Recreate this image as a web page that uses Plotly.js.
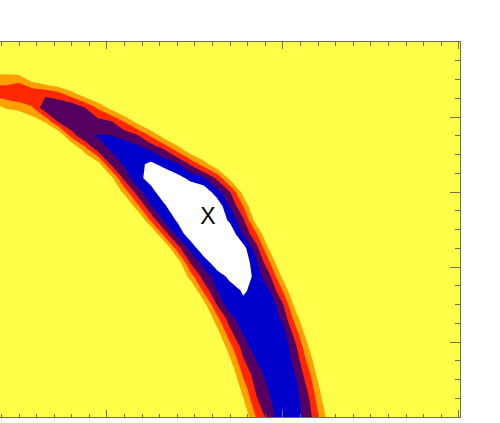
<!DOCTYPE html>
<html>
<head>
<meta charset="utf-8">
<script src="https://cdn.plot.ly/plotly-3.0.1.min.js"></script>
<style>
  html, body { margin: 0; padding: 0; background: #fff; }
  #chart { width: 500px; height: 423px; }
</style>
</head>
<body>
<div id="chart"></div>
<script>
// grid nodes of the confidence map (axis units)
const xGrid = [3.5, 4.25, 5, 5.75, 6.5, 7.25, 8, 8.75, 9.5, 10.25, 11, 11.75, 12.5, 13.25,
               14, 14.75, 15.5, 16.25, 17, 17.75, 18.5, 19.25, 20, 20.75, 21.5, 22.25, 23, 23.75];
const yGrid = [0, 0.75, 1.5, 2.25, 3, 3.75, 4.5, 5.25, 6, 6.75, 7.5, 8.25, 9, 9.75,
               10.5, 11.25, 12, 12.75, 13.5, 14.25, 15, 15.75, 16.5, 17.25, 18, 18.75, 19.5, 20.25];

// level at each node: <0.5 outside, 1 orange, 2 red, 3 purple, 4 blue, 5 white
const zGrid = [
  [-1,-1,-1,-1,-1,-1,-1,-1,-1,-1,-1,-1,-1,-1,-1,-1,-1,-1,-1,-0.3,1.59,3.06,4.16,4.03,2.83,1.02,-1,-1],
  [-1,-1,-1,-1,-1,-1,-1,-1,-1,-1,-1,-1,-1,-1,-1,-1,-1,-1,-1,0.27,2.29,3.36,4.3,3.9,2.61,0.52,-1,-1],
  [-1,-1,-1,-1,-1,-1,-1,-1,-1,-1,-1,-1,-1,-1,-1,-1,-1,-1,-1,0.93,2.73,3.61,4.3,3.72,2.23,0.03,-1,-1],
  [-1,-1,-1,-1,-1,-1,-1,-1,-1,-1,-1,-1,-1,-1,-1,-1,-1,-1,-0.48,1.68,3.05,3.93,4.3,3.44,1.7,-0.56,-1,-1],
  [-1,-1,-1,-1,-1,-1,-1,-1,-1,-1,-1,-1,-1,-1,-1,-1,-1,-1,0.33,2.38,3.52,4.3,4.3,3.06,1.01,-1,-1,-1],
  [-1,-1,-1,-1,-1,-1,-1,-1,-1,-1,-1,-1,-1,-1,-1,-1,-1,-0.84,1.19,2.94,4.17,4.3,4.3,2.6,0.38,-1,-1,-1],
  [-1,-1,-1,-1,-1,-1,-1,-1,-1,-1,-1,-1,-1,-1,-1,-1,-1,0.06,2.22,3.61,4.3,4.3,3.93,1.85,-0.43,-1,-1,-1],
  [-1,-1,-1,-1,-1,-1,-1,-1,-1,-1,-1,-1,-1,-1,-1,-1,-1,1.18,3.06,4.28,4.3,4.3,3.25,0.92,-1,-1,-1,-1],
  [-1,-1,-1,-1,-1,-1,-1,-1,-1,-1,-1,-1,-1,-1,-1,-1,0.01,2.56,4.24,4.3,4.3,4.3,2.56,-0.01,-1,-1,-1,-1],
  [-1,-1,-1,-1,-1,-1,-1,-1,-1,-1,-1,-1,-1,-1,-1,-0.84,1.8,3.48,4.06,4.62,4.21,3.49,1.44,-1,-1,-1,-1,-1],
  [-1,-1,-1,-1,-1,-1,-1,-1,-1,-1,-1,-1,-1,-1,-1,1.0,2.98,3.94,4.78,5.27,4.06,2.68,0.18,-1,-1,-1,-1,-1],
  [-1,-1,-1,-1,-1,-1,-1,-1,-1,-1,-1,-1,-1,-1,-0.19,2.61,3.92,5.2,5.3,5.3,3.66,1.54,-1,-1,-1,-1,-1,-1],
  [-1,-1,-1,-1,-1,-1,-1,-1,-1,-1,-1,-1,-1,-0.88,2.05,3.82,5.3,5.3,5.3,4.96,2.86,0.27,-1,-1,-1,-1,-1,-1],
  [-1,-1,-1,-1,-1,-1,-1,-1,-1,-1,-1,-1,-1,1.9,3.79,5.13,5.3,5.3,5.3,3.44,1.63,-1,-1,-1,-1,-1,-1,-1],
  [-1,-1,-1,-1,-1,-1,-1,-1,-1,-1,-1,-1,1.74,3.63,4.64,5.3,5.3,5.3,4.28,2.65,-0.09,-1,-1,-1,-1,-1,-1,-1],
  [-1,-1,-1,-1,-1,-1,-1,-1,-1,-1,-1,1.28,3.45,4.36,5.24,5.3,5.3,5.28,3.43,1.48,-1,-1,-1,-1,-1,-1,-1,-1],
  [-1,-1,-1,-1,-1,-1,-1,-1,-1,-1,0.9,3.06,4.18,5.08,5.3,5.3,5.3,3.92,2.52,0.05,-1,-1,-1,-1,-1,-1,-1,-1],
  [-1,-1,-1,-1,-1,-1,-1,-1,-1,0.2,2.86,4.23,4.88,5.3,4.86,4.23,3.59,2.27,0.13,-1,-1,-1,-1,-1,-1,-1,-1,-1],
  [-1,-1,-1,-1,-1,-1,-1,-1,0.08,2.77,3.68,4.25,4.71,4.18,3.6,2.32,0.96,-0.4,-1,-1,-1,-1,-1,-1,-1,-1,-1,-1],
  [-1,-1,-1,-1,-1,-1,-1,0.97,2.88,3.63,4.27,3.96,3.39,2.54,1.14,-0.29,-1,-1,-1,-1,-1,-1,-1,-1,-1,-1,-1,-1],
  [-1,-1,-1,-1,-1,-0.6,2.0,3.4,3.57,3.52,3.16,2.6,1.37,0.01,-1,-1,-1,-1,-1,-1,-1,-1,-1,-1,-1,-1,-1,-1],
  [-1,-0.6,-0.8,-0.1,0.6,2.62,3.4,3.4,2.88,2.57,1.45,0.12,-1,-1,-1,-1,-1,-1,-1,-1,-1,-1,-1,-1,-1,-1,-1,-1],
  [-0.02,0.6,0.9,1.4,3.28,3.4,3.4,2.52,1.31,0.12,-1,-1,-1,-1,-1,-1,-1,-1,-1,-1,-1,-1,-1,-1,-1,-1,-1,-1],
  [1.8,2.2,2.4,2.4,2.28,1.84,0.8,-0.21,-1,-1,-1,-1,-1,-1,-1,-1,-1,-1,-1,-1,-1,-1,-1,-1,-1,-1,-1,-1],
  [1.3,1.0,1.2,0.07,-0.59,-1,-1,-1,-1,-1,-1,-1,-1,-1,-1,-1,-1,-1,-1,-1,-1,-1,-1,-1,-1,-1,-1,-1],
  [-1,-0.37,-1,-1,-1,-1,-1,-1,-1,-1,-1,-1,-1,-1,-1,-1,-1,-1,-1,-1,-1,-1,-1,-1,-1,-1,-1,-1],
  [-1,-1,-1,-1,-1,-1,-1,-1,-1,-1,-1,-1,-1,-1,-1,-1,-1,-1,-1,-1,-1,-1,-1,-1,-1,-1,-1,-1],
  [-1,-1,-1,-1,-1,-1,-1,-1,-1,-1,-1,-1,-1,-1,-1,-1,-1,-1,-1,-1,-1,-1,-1,-1,-1,-1,-1,-1],
];

// outside -> innermost region
const LEVEL_COLORS = ['#ffff4a', '#ffa000', '#ff2800', '#550060', '#0000cc', '#ffffff'];

// best-fit marker
const markX = [15.74];
const markY = [10.6];
const markText = ['X'];

const AXIS_COLOR = '#6e6e50';

const colorscale = LEVEL_COLORS.map((c, i) => [i / (LEVEL_COLORS.length - 1), c]);

const traces = [
    {
        type: 'contour', x: xGrid, y: yGrid, z: zGrid,
        autocontour: false,
        contours: { start: 0.5, end: 4.5, size: 1, coloring: 'fill', showlines: false },
        line: { width: 0, smoothing: 0 },
        colorscale: colorscale, showscale: false, hoverinfo: 'skip',
    },
    {
        type: 'scatter', mode: 'text', x: markX, y: markY, text: markText,
        textposition: 'middle center',
        textfont: { family: 'Liberation Sans, Arial, sans-serif', size: 23, color: '#000' },
        hoverinfo: 'skip',
    },
];

const layout = {
    width: 500, height: 423,
    margin: { l: 0, r: 40, t: 42, b: 6 },
    paper_bgcolor: '#ffffff',
    plot_bgcolor: LEVEL_COLORS[0],
    showlegend: false,
    xaxis: {
        range: [3.92, 30.06], showgrid: false, zeroline: false,
        showline: true, linecolor: AXIS_COLOR, linewidth: 1, mirror: 'ticks',
        ticks: 'inside', tick0: 0, dtick: 10, ticklen: 7, tickcolor: AXIS_COLOR,
        minor: { ticks: 'inside', dtick: 1, ticklen: 3.5, tickcolor: AXIS_COLOR },
        showticklabels: false,
    },
    yaxis: {
        range: [0, 20], side: 'right', showgrid: false, zeroline: false,
        showline: true, linecolor: AXIS_COLOR, linewidth: 1, mirror: false,
        ticks: 'inside', tick0: 0, dtick: 4, ticklen: 10, tickcolor: AXIS_COLOR,
        minor: { ticks: 'inside', dtick: 1, ticklen: 5, tickcolor: AXIS_COLOR },
        showticklabels: false,
    },
};

Plotly.newPlot('chart', traces, layout, { displayModeBar: false, staticPlot: true });
</script>
</body>
</html>
